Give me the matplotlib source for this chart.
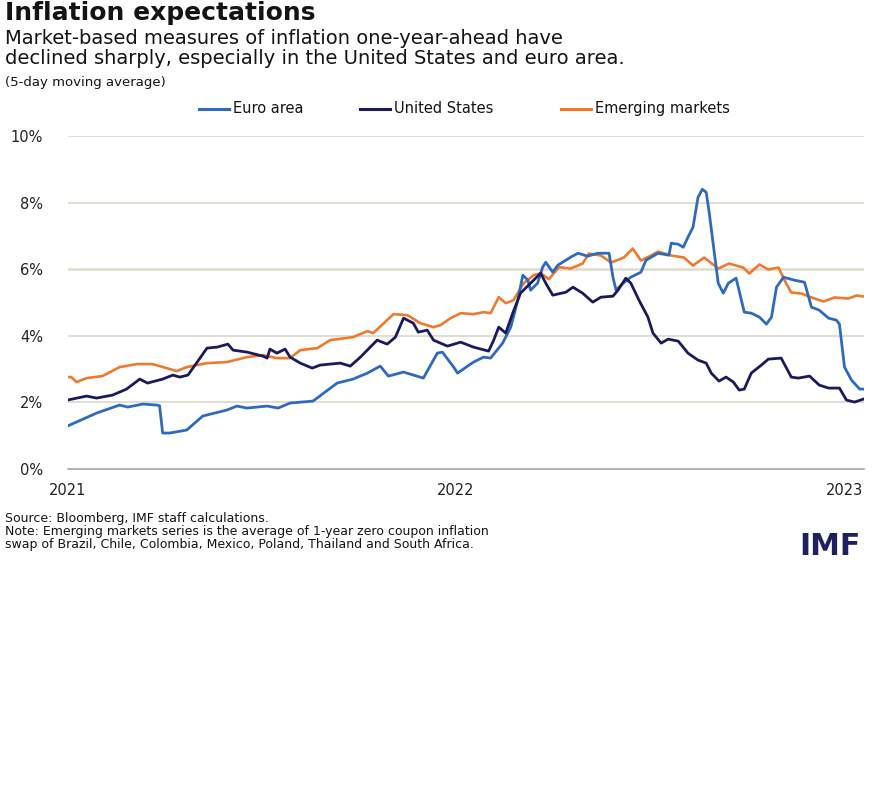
import matplotlib
matplotlib.use("Agg")
import matplotlib.pyplot as plt
from matplotlib.lines import Line2D

# ---- data (x in decimal years since 2021-01-01, values in %) ----
euro_x = [0.000, 0.075, 0.134, 0.155, 0.194, 0.230, 0.237, 0.245, 0.263, 0.307, 0.348, 0.410,
          0.436, 0.462, 0.514, 0.542, 0.573, 0.632, 0.694, 0.735, 0.772, 0.805, 0.826, 0.865,
          0.916, 0.952, 0.965, 0.994, 1.004, 1.045, 1.071, 1.089, 1.120, 1.141, 1.159, 1.172,
          1.185, 1.192, 1.210, 1.223, 1.231, 1.249, 1.262, 1.295, 1.314, 1.339, 1.365, 1.394,
          1.404, 1.412, 1.430, 1.450, 1.476, 1.489, 1.520, 1.548, 1.554, 1.572, 1.585, 1.597,
          1.610, 1.623, 1.634, 1.644, 1.652, 1.665, 1.675, 1.688, 1.701, 1.721, 1.742, 1.760,
          1.781, 1.799, 1.812, 1.825, 1.843, 1.871, 1.897, 1.915, 1.935, 1.959, 1.979, 1.987,
          2.000, 2.018, 2.039, 2.049]
euro_y = [1.29, 1.68, 1.92, 1.86, 1.95, 1.92, 1.90, 1.08, 1.08, 1.17, 1.59, 1.77,
          1.89, 1.83, 1.89, 1.83, 1.98, 2.04, 2.58, 2.70, 2.88, 3.09, 2.79, 2.91,
          2.73, 3.48, 3.51, 3.06, 2.88, 3.21, 3.36, 3.33, 3.78, 4.26, 5.07, 5.82,
          5.67, 5.37, 5.58, 6.06, 6.21, 5.91, 6.12, 6.36, 6.48, 6.39, 6.48, 6.48,
          5.76, 5.37, 5.58, 5.76, 5.91, 6.27, 6.48, 6.42, 6.78, 6.75, 6.66, 6.96,
          7.26, 8.16, 8.40, 8.31, 7.68, 6.48, 5.58, 5.28, 5.58, 5.73, 4.71, 4.68,
          4.56, 4.35, 4.56, 5.46, 5.76, 5.67, 5.61, 4.86, 4.77, 4.53, 4.47, 4.35,
          3.06, 2.67, 2.40, 2.40]

us_x = [0.000, 0.049, 0.075, 0.116, 0.152, 0.186, 0.206, 0.245, 0.271, 0.289, 0.310, 0.341,
        0.359, 0.385, 0.413, 0.426, 0.462, 0.503, 0.514, 0.521, 0.539, 0.560, 0.573, 0.599,
        0.630, 0.650, 0.702, 0.728, 0.754, 0.797, 0.823, 0.844, 0.865, 0.890, 0.903, 0.926,
        0.942, 0.960, 0.978, 1.012, 1.045, 1.084, 1.097, 1.110, 1.128, 1.146, 1.166, 1.192,
        1.218, 1.231, 1.249, 1.283, 1.301, 1.326, 1.352, 1.373, 1.404, 1.417, 1.437, 1.450,
        1.471, 1.494, 1.507, 1.528, 1.546, 1.572, 1.597, 1.623, 1.644, 1.657, 1.677, 1.695,
        1.714, 1.729, 1.742, 1.760, 1.786, 1.804, 1.837, 1.863, 1.881, 1.910, 1.935, 1.959,
        1.987, 2.005, 2.026, 2.049]
us_y = [2.07, 2.19, 2.13, 2.22, 2.40, 2.70, 2.58, 2.70, 2.82, 2.76, 2.82, 3.33,
        3.63, 3.66, 3.75, 3.57, 3.51, 3.39, 3.33, 3.60, 3.48, 3.60, 3.36, 3.18,
        3.03, 3.12, 3.18, 3.09, 3.36, 3.87, 3.75, 3.96, 4.53, 4.38, 4.11, 4.17,
        3.87, 3.78, 3.69, 3.81, 3.66, 3.54, 3.87, 4.26, 4.08, 4.68, 5.28, 5.58,
        5.88, 5.58, 5.22, 5.31, 5.46, 5.28, 5.01, 5.16, 5.19, 5.37, 5.73, 5.58,
        5.07, 4.56, 4.08, 3.78, 3.90, 3.84, 3.48, 3.27, 3.18, 2.88, 2.64, 2.76,
        2.61, 2.37, 2.40, 2.88, 3.12, 3.30, 3.33, 2.76, 2.73, 2.79, 2.52, 2.43,
        2.43, 2.07, 2.01, 2.10]

em_x = [0.000, 0.010, 0.023, 0.049, 0.090, 0.134, 0.178, 0.219, 0.255, 0.281, 0.307, 0.359,
        0.410, 0.462, 0.503, 0.539, 0.573, 0.599, 0.643, 0.676, 0.735, 0.772, 0.787, 0.839,
        0.875, 0.908, 0.942, 0.960, 0.986, 1.012, 1.045, 1.071, 1.089, 1.110, 1.128, 1.148,
        1.174, 1.200, 1.218, 1.239, 1.265, 1.295, 1.326, 1.342, 1.373, 1.399, 1.432, 1.455,
        1.476, 1.502, 1.520, 1.554, 1.587, 1.610, 1.639, 1.675, 1.703, 1.739, 1.755, 1.781,
        1.804, 1.830, 1.850, 1.863, 1.889, 1.915, 1.946, 1.974, 2.010, 2.031, 2.049]
em_y = [2.76, 2.76, 2.61, 2.73, 2.79, 3.06, 3.15, 3.15, 3.03, 2.94, 3.06, 3.18,
        3.21, 3.36, 3.42, 3.33, 3.33, 3.57, 3.63, 3.87, 3.96, 4.14, 4.08, 4.65,
        4.62, 4.38, 4.26, 4.32, 4.53, 4.68, 4.65, 4.71, 4.68, 5.16, 4.98, 5.07,
        5.58, 5.82, 5.88, 5.70, 6.06, 6.02, 6.17, 6.47, 6.41, 6.20, 6.35, 6.62,
        6.26, 6.41, 6.53, 6.41, 6.35, 6.11, 6.35, 6.02, 6.17, 6.05, 5.87, 6.14,
        5.99, 6.05, 5.57, 5.30, 5.27, 5.15, 5.03, 5.15, 5.12, 5.21, 5.18]

series_names = ["Euro area", "United States", "Emerging markets"]
year_ticks = [0, 1, 2]
year_labels = ["2021", "2022", "2023"]
y_ticks = [0, 2, 4, 6, 8, 10]
y_labels = ["0%", "2%", "4%", "6%", "8%", "10%"]

C_EURO = "#2e6bc0"
C_US = "#1b1a5c"
C_EM = "#ef7a2d"
GRID = "#e0dccb"
TXT = "#141414"

plt.rcParams['font.family'] = ['DejaVu Sans']

W, H = 887, 785
fig = plt.figure(figsize=(W / 100, H / 100), dpi=100)
renderer = fig.canvas.get_renderer()

X0, PXY = 67.5, 388.5          # pixel of 2021 and pixels per year
x_end = X0 + 2.049 * PXY
ax = fig.add_axes([X0 / W, 1 - 469 / H, (x_end - X0) / W, (469 - 136) / H])

ax.plot(euro_x, euro_y, color=C_EURO, lw=2.0, solid_joinstyle="round", zorder=3)
ax.plot(us_x, us_y, color=C_US, lw=2.0, solid_joinstyle="round", zorder=4)
ax.plot(em_x, em_y, color=C_EM, lw=1.9, solid_joinstyle="round", zorder=2)

ax.set_xlim(0, 2.049)
ax.set_ylim(0, 10)
ax.set_yticks(y_ticks)
ax.set_yticklabels(y_labels)
ax.set_xticks(year_ticks)
ax.set_xticklabels(year_labels)
ax.tick_params(axis="both", length=0, labelsize=10.5, colors="#222222")
ax.tick_params(axis="y", pad=17.5)
ax.tick_params(axis="x", pad=10)
for s in ["top", "right", "left"]:
    ax.spines[s].set_visible(False)
ax.spines["bottom"].set_color("#a8a8a8")
ax.spines["bottom"].set_linewidth(1.2)
for v in y_ticks[1:]:
    ax.axhline(v, color=GRID, lw=1.3 if v != 6 else 1.8, zorder=1)


def put(x, y, s, size, ha="left", **kw):
    kw.setdefault("color", TXT)
    return fig.text(x / W, 1 - y / H, s, fontsize=size, va="baseline", ha=ha, **kw)


# legend drawn by hand: each item centred where it sits in the original
leg_centres = [251.5, 426.5, 645.0]
HANDLE, GAP, LEG_SIZE = 30, 4, 10.5
for cx, name, col in zip(leg_centres, series_names, (C_EURO, C_US, C_EM)):
    t = put(0, 113, name, LEG_SIZE)
    tw = t.get_window_extent(renderer).width
    left = cx - (HANDLE + GAP + tw) / 2
    t.set_x((left + HANDLE + GAP) / W)
    fig.add_artist(Line2D([left / W, (left + HANDLE) / W], [1 - 109 / H, 1 - 109 / H],
                          color=col, lw=2.2, transform=fig.transFigure))

put(5, 20, "Inflation expectations", 18, fontweight="bold")
put(5, 44, "Market-based measures of inflation one-year-ahead have", 14)
put(5, 64, "declined sharply, especially in the United States and euro area.", 14)
put(5, 86, "(5-day moving average)", 9.5)

put(5, 522, "Source: Bloomberg, IMF staff calculations.", 9)
put(5, 535, "Note: Emerging markets series is the average of 1-year zero coupon inflation", 9)
put(5, 548, "swap of Brazil, Chile, Colombia, Mexico, Poland, Thailand and South Africa.", 9)
put(829.5, 555, "IMF", 21.5, ha="center", fontweight="bold", color="#1f215e")

fig.savefig("out.png", dpi=100, facecolor="white")
